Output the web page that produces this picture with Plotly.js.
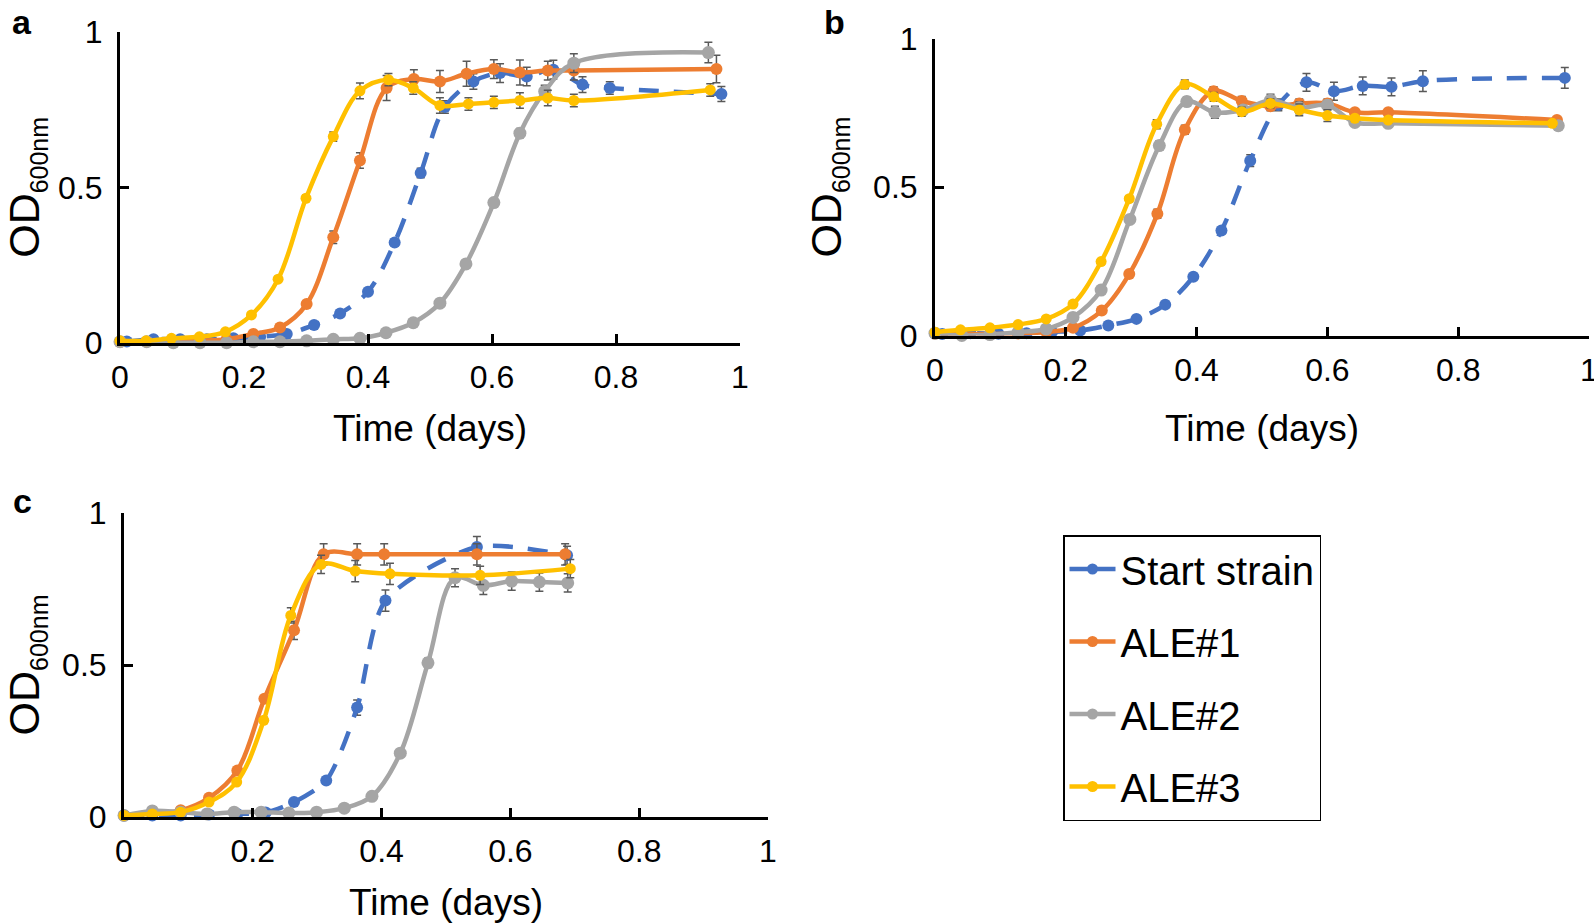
<!DOCTYPE html>
<html>
<head>
<meta charset="utf-8">
<script src="https://cdn.plot.ly/plotly-3.0.1.min.js"></script>
<style>html,body{margin:0;padding:0;background:#fff;}#chart{width:1594px;height:924px;}</style>
</head>
<body>
<div id="chart"></div>
<script>
// ---------- Data ----------
const seriesNames = ["Start strain", "ALE#1", "ALE#2", "ALE#3"];
const seriesColors = ["#4472C4", "#ED7D31", "#A5A5A5", "#FFC000"];
const xTickVals = [0, 0.2, 0.4, 0.6, 0.8, 1];
const yTickVals = [0, 0.5, 1];

// Panel a
const aStartX = [0.011, 0.054, 0.097, 0.140, 0.183, 0.226, 0.269, 0.313, 0.355, 0.400, 0.443, 0.485, 0.524, 0.570, 0.613, 0.656, 0.699, 0.746, 0.790, 0.970];
const aStartY = [0.005, 0.012, 0.012, 0.012, 0.015, 0.020, 0.029, 0.058, 0.095, 0.165, 0.323, 0.546, 0.758, 0.840, 0.867, 0.856, 0.878, 0.830, 0.819, 0.800];
const aStartE = [0, 0, 0, 0, 0, 0, 0, 0, 0.005, 0.005, 0.01, 0.015, 0.02, 0.025, 0.03, 0.03, 0.03, 0.025, 0.02, 0.024];
const aAle1X = [0, 0.043, 0.086, 0.129, 0.172, 0.215, 0.258, 0.301, 0.344, 0.387, 0.430, 0.474, 0.516, 0.559, 0.603, 0.645, 0.690, 0.732, 0.962];
const aAle1Y = [0.003, 0.004, 0.005, 0.007, 0.012, 0.029, 0.050, 0.125, 0.340, 0.586, 0.819, 0.848, 0.840, 0.865, 0.880, 0.869, 0.875, 0.875, 0.880];
const aAle1E = [0, 0, 0, 0, 0, 0, 0, 0.005, 0.02, 0.025, 0.04, 0.03, 0.035, 0.04, 0.03, 0.04, 0.03, 0.03, 0.044];
const aAle2X = [0, 0.043, 0.086, 0.129, 0.172, 0.215, 0.258, 0.301, 0.344, 0.387, 0.429, 0.473, 0.516, 0.558, 0.603, 0.645, 0.685, 0.732, 0.949];
const aAle2Y = [0.004, 0.004, 0.001, 0.001, 0.001, 0.004, 0.004, 0.007, 0.012, 0.015, 0.033, 0.065, 0.128, 0.254, 0.451, 0.674, 0.808, 0.899, 0.933];
const aAle2E = [0, 0, 0, 0, 0, 0, 0, 0, 0, 0, 0, 0, 0.005, 0.005, 0.01, 0.015, 0.02, 0.03, 0.033];
const aAle3X = [0, 0.042, 0.083, 0.128, 0.170, 0.212, 0.255, 0.300, 0.344, 0.387, 0.433, 0.473, 0.516, 0.562, 0.603, 0.645, 0.690, 0.732, 0.952];
const aAle3Y = [0.007, 0.007, 0.015, 0.020, 0.036, 0.090, 0.205, 0.465, 0.663, 0.810, 0.846, 0.819, 0.763, 0.768, 0.773, 0.779, 0.787, 0.779, 0.813];
const aAle3E = [0, 0, 0, 0, 0, 0.003, 0.005, 0.01, 0.015, 0.025, 0.02, 0.02, 0.025, 0.02, 0.02, 0.025, 0.025, 0.02, 0.02];

// Panel b
const bStartX = [0.011, 0.054, 0.097, 0.140, 0.179, 0.222, 0.265, 0.308, 0.352, 0.395, 0.438, 0.482, 0.525, 0.568, 0.610, 0.654, 0.698, 0.746, 0.963];
const bStartY = [0.005, 0.008, 0.006, 0.008, 0.012, 0.017, 0.034, 0.056, 0.104, 0.198, 0.354, 0.589, 0.777, 0.853, 0.823, 0.841, 0.838, 0.857, 0.868];
const bStartE = [0, 0, 0, 0, 0, 0, 0, 0, 0.005, 0.008, 0.01, 0.02, 0.02, 0.03, 0.03, 0.03, 0.03, 0.035, 0.035];
const bAle1X = [0, 0.041, 0.084, 0.127, 0.170, 0.211, 0.255, 0.297, 0.340, 0.382, 0.426, 0.469, 0.513, 0.557, 0.600, 0.642, 0.693, 0.951];
const bAle1Y = [0.006, 0.005, 0.005, 0.007, 0.012, 0.026, 0.084, 0.207, 0.410, 0.693, 0.823, 0.790, 0.772, 0.782, 0.782, 0.752, 0.752, 0.726];
const bAle1E = [0, 0, 0, 0, 0, 0, 0.005, 0.01, 0.015, 0.015, 0.015, 0.015, 0.015, 0.015, 0.015, 0.01, 0.01, 0.01];
const bAle2X = [0, 0.041, 0.084, 0.127, 0.170, 0.211, 0.254, 0.298, 0.343, 0.385, 0.428, 0.471, 0.513, 0.557, 0.600, 0.642, 0.693, 0.953];
const bAle2Y = [0.008, 0.000, 0.003, 0.011, 0.022, 0.061, 0.153, 0.391, 0.640, 0.788, 0.752, 0.760, 0.793, 0.767, 0.776, 0.718, 0.715, 0.707];
const bAle2E = [0, 0, 0, 0, 0, 0, 0.005, 0.01, 0.015, 0.015, 0.02, 0.015, 0.02, 0.02, 0.015, 0.01, 0.01, 0.01];
const bAle3X = [0, 0.039, 0.084, 0.127, 0.170, 0.211, 0.254, 0.297, 0.339, 0.382, 0.426, 0.469, 0.513, 0.557, 0.600, 0.642, 0.693, 0.944];
const bAle3Y = [0.011, 0.019, 0.026, 0.037, 0.056, 0.106, 0.249, 0.461, 0.712, 0.846, 0.804, 0.754, 0.782, 0.760, 0.741, 0.732, 0.726, 0.715];
const bAle3E = [0, 0, 0, 0, 0, 0.005, 0.01, 0.01, 0.015, 0.015, 0.015, 0.015, 0.015, 0.02, 0.02, 0.01, 0.01, 0.01];

// Panel c
const cStartX = [0, 0.044, 0.088, 0.132, 0.176, 0.220, 0.264, 0.314, 0.362, 0.406, 0.548, 0.688];
const cStartY = [0.005, 0.005, 0.005, 0.008, 0.010, 0.015, 0.049, 0.120, 0.360, 0.712, 0.888, 0.861];
const cStartE = [0, 0, 0, 0, 0, 0, 0.005, 0.01, 0.025, 0.035, 0.035, 0.03];
const cAle1X = [0, 0.044, 0.088, 0.132, 0.176, 0.218, 0.264, 0.310, 0.362, 0.404, 0.548, 0.685];
const cAle1Y = [0.005, 0.012, 0.022, 0.063, 0.153, 0.389, 0.614, 0.864, 0.864, 0.864, 0.864, 0.864];
const cAle1E = [0, 0, 0, 0, 0.005, 0.01, 0.03, 0.035, 0.035, 0.035, 0.035, 0.035];
const cAle2X = [0, 0.044, 0.088, 0.129, 0.171, 0.213, 0.256, 0.299, 0.342, 0.385, 0.429, 0.472, 0.514, 0.558, 0.602, 0.645, 0.689];
const cAle2Y = [0.005, 0.020, 0.016, 0.010, 0.016, 0.016, 0.013, 0.016, 0.029, 0.068, 0.210, 0.507, 0.787, 0.762, 0.776, 0.773, 0.770];
const cAle2E = [0, 0, 0, 0, 0, 0, 0, 0, 0, 0, 0.005, 0.015, 0.03, 0.03, 0.03, 0.03, 0.03];
const cAle3X = [0, 0.044, 0.088, 0.132, 0.175, 0.217, 0.259, 0.306, 0.359, 0.413, 0.553, 0.693];
const cAle3Y = [0.005, 0.010, 0.016, 0.049, 0.115, 0.318, 0.663, 0.831, 0.809, 0.800, 0.795, 0.817];
const cAle3E = [0, 0, 0, 0, 0.005, 0.01, 0.025, 0.03, 0.035, 0.035, 0.03, 0.03];

const panelLabels = ["a", "b", "c"];
const xTitle = "Time (days)";
const yTitle = "OD<sub><span style=\"font-size:25px\">600nm</span></sub>";

// ---------- Build ----------
const FONT = "Liberation Sans, Arial, Helvetica, sans-serif";
const W = 1594, H = 924;
const markerSizes = [12, 12, 13, 11];

const panels = [
  {xa: "x", ya: "y", smooth: 1, s: [[aStartX, aStartY, aStartE], [aAle1X, aAle1Y, aAle1E], [aAle2X, aAle2Y, aAle2E], [aAle3X, aAle3Y, aAle3E]]},
  {xa: "x2", ya: "y2", smooth: 1, s: [[bStartX, bStartY, bStartE], [bAle1X, bAle1Y, bAle1E], [bAle2X, bAle2Y, bAle2E], [bAle3X, bAle3Y, bAle3E]]},
  {xa: "x3", ya: "y3", smooth: 0.75, s: [[cStartX, cStartY, cStartE], [cAle1X, cAle1Y, cAle1E], [cAle2X, cAle2Y, cAle2E], [cAle3X, cAle3Y, cAle3E]]}
];

const traces = [];
panels.forEach(p => {
  p.s.forEach((d, i) => {
    traces.push({
      type: "scatter", mode: "lines+markers",
      x: d[0], y: d[1], xaxis: p.xa, yaxis: p.ya,
      name: seriesNames[i], showlegend: false, cliponaxis: false,
      line: {color: seriesColors[i], width: 4.5, shape: "spline", smoothing: (i === 0 ? p.smooth : 1), dash: i === 0 ? "20px,15px" : "solid"},
      marker: {color: seriesColors[i], size: markerSizes[i]},
      error_y: {type: "data", array: d[2], visible: true, color: "#595959", thickness: 1.5, width: 4}
    });
  });
});
// legend entries (solid line samples as in the reference legend)
seriesNames.forEach((n, i) => {
  traces.push({
    type: "scatter", mode: "lines+markers", x: [null], y: [null], xaxis: "x", yaxis: "y",
    name: n, legendgroup: "g" + i, showlegend: true,
    line: {color: seriesColors[i], width: 4.5},
    marker: {color: seriesColors[i], size: 11}
  });
});

function xAxis(domain, anchor, standoff) {
  return {
    domain: domain, anchor: anchor, range: [0, 1], tickvals: xTickVals,
    showgrid: false, zeroline: false, showline: true, linecolor: "black", linewidth: 3,
    ticks: "inside", ticklen: 9, tickwidth: 3, tickcolor: "black",
    tickfont: {family: FONT, size: 32, color: "black"}, ticklabelstandoff: 4,
    ticklabeloverflow: "allow",
    title: {text: xTitle, font: {family: FONT, size: 37, color: "black"}, standoff: standoff},
    fixedrange: true
  };
}
function yAxis(domain, anchor) {
  return {
    domain: domain, anchor: anchor, range: [0, 1], tickvals: yTickVals,
    showgrid: false, zeroline: false, showline: true, linecolor: "black", linewidth: 3,
    ticks: "inside", ticklen: 9, tickwidth: 3, tickcolor: "black",
    tickfont: {family: FONT, size: 32, color: "black"}, ticklabelstandoff: 8,
    ticklabeloverflow: "allow",
    title: {text: yTitle, font: {family: FONT, size: 43, color: "black"}, standoff: 19},
    fixedrange: true
  };
}

const layout = {
  width: W, height: H, margin: {l: 0, r: 0, t: 0, b: 0},
  paper_bgcolor: "white", plot_bgcolor: "rgba(0,0,0,0)",
  font: {family: FONT, color: "black"},
  xaxis: xAxis([120 / W, 740 / W], "y", 21),
  yaxis: yAxis([1 - 343 / H, 1 - 31.7 / H], "x"),
  xaxis2: xAxis([935 / W, 1589 / W], "y2", 29),
  yaxis2: yAxis([1 - 335.5 / H, 1 - 38.7 / H], "x2"),
  xaxis3: xAxis([124 / W, 768 / W], "y3", 21),
  yaxis3: yAxis([1 - 817 / H, 1 - 513 / H], "x3"),
  showlegend: true,
  legend: {
    x: 1063 / W, y: 1 - 535 / H, xanchor: "left", yanchor: "top",
    bordercolor: "black", borderwidth: 1.5, bgcolor: "white",
    font: {family: FONT, size: 40, color: "black"},
    traceorder: "grouped", tracegroupgap: 17.5, itemwidth: 46, valign: "middle"
  },
  annotations: [
    {text: "<b>" + panelLabels[0] + "</b>", xref: "paper", yref: "paper", x: 22 / W, y: 1 - 22 / H, showarrow: false, xanchor: "center", yanchor: "middle", font: {family: FONT, size: 34, color: "black"}},
    {text: "<b>" + panelLabels[1] + "</b>", xref: "paper", yref: "paper", x: 834 / W, y: 1 - 22 / H, showarrow: false, xanchor: "center", yanchor: "middle", font: {family: FONT, size: 34, color: "black"}},
    {text: "<b>" + panelLabels[2] + "</b>", xref: "paper", yref: "paper", x: 22 / W, y: 1 - 501 / H, showarrow: false, xanchor: "center", yanchor: "middle", font: {family: FONT, size: 34, color: "black"}}
  ]
};

Plotly.newPlot("chart", traces, layout, {displayModeBar: false, staticPlot: true});
</script>
</body>
</html>
